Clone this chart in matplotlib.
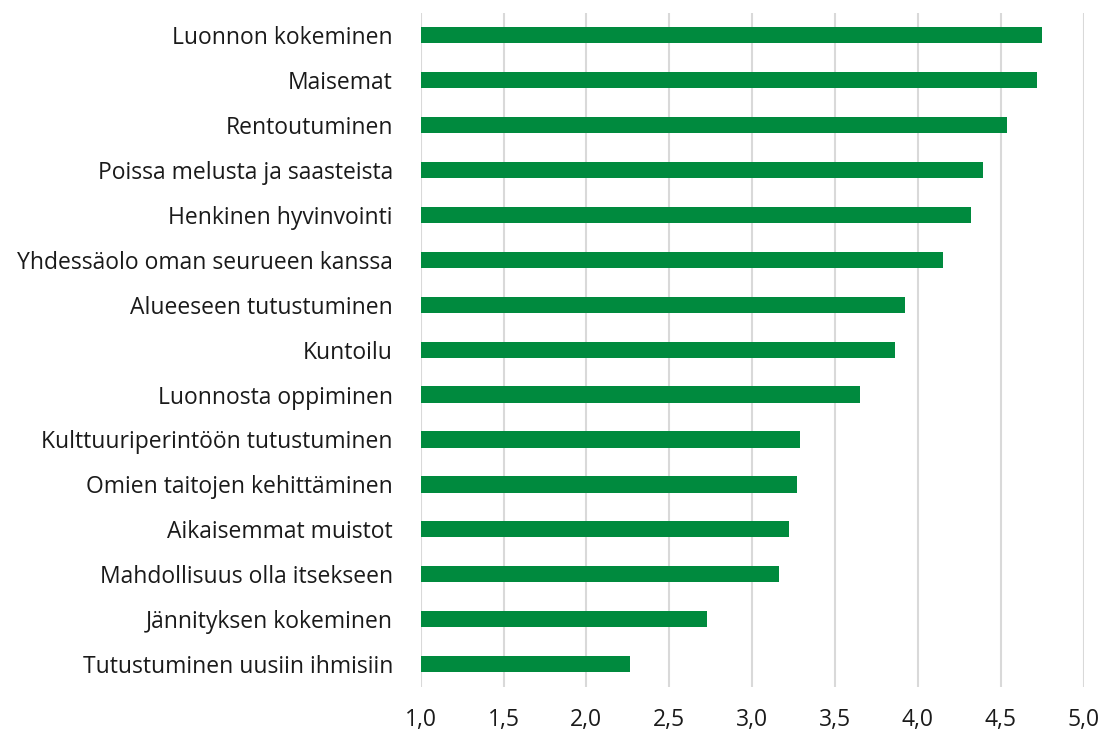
import matplotlib.pyplot as plt
import numpy as np

plt.rcParams['font.family'] = ['Open Sans', 'DejaVu Sans']

# Categories (top to bottom) and mean scores
categories = [
    "Luonnon kokeminen",
    "Maisemat",
    "Rentoutuminen",
    "Poissa melusta ja saasteista",
    "Henkinen hyvinvointi",
    "Yhdessäolo oman seurueen kanssa",
    "Alueeseen tutustuminen",
    "Kuntoilu",
    "Luonnosta oppiminen",
    "Kulttuuriperintöön tutustuminen",
    "Omien taitojen kehittäminen",
    "Aikaisemmat muistot",
    "Mahdollisuus olla itsekseen",
    "Jännityksen kokeminen",
    "Tutustuminen uusiin ihmisiin",
]
values = [4.75, 4.72, 4.54, 4.39, 4.32, 4.15, 3.92, 3.86, 3.65, 3.29, 3.27, 3.22, 3.16, 2.73, 2.26]
x_ticks = [1.0, 1.5, 2.0, 2.5, 3.0, 3.5, 4.0, 4.5, 5.0]

fig = plt.figure(figsize=(11.07, 7.36), dpi=100)
ax = fig.add_axes([0.380, 0.067, 0.599, 0.916])

y = np.arange(len(categories))
ax.barh(y, np.array(values) - 1.0, left=1.0, height=0.36, color='#008A3E', zorder=3)

ax.set_xlim(1.0, 5.0)
ax.set_ylim(len(categories) - 0.5, -0.5)
ax.set_xticks(x_ticks)
ax.set_xticklabels([f"{t:.1f}".replace('.', ',') for t in x_ticks])
ax.set_yticks(y)
ax.set_yticklabels(categories)

ax.grid(axis='x', color='#d9d9d9', linewidth=1.5, zorder=0)
ax.set_axisbelow(True)
for s in ax.spines.values():
    s.set_visible(False)
ax.tick_params(axis='both', length=0, labelsize=16.5, colors='#1a1a1a')
ax.tick_params(axis='y', pad=20)
ax.tick_params(axis='x', pad=15)

fig.savefig('out.png', dpi=100)
